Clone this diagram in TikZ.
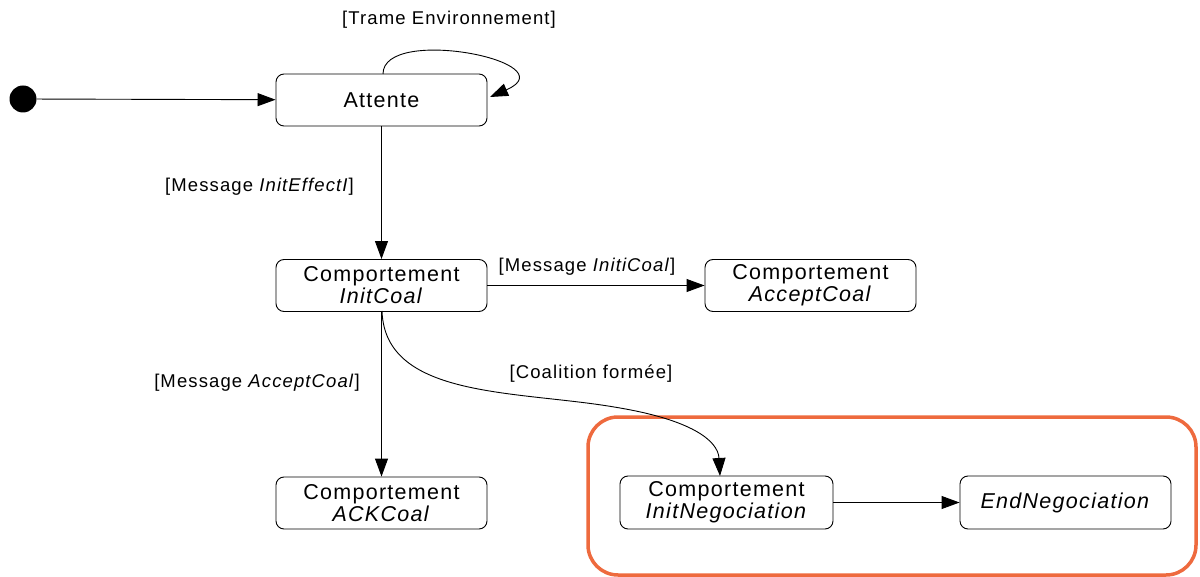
\documentclass[tikz,border=0pt]{standalone}
\usepackage{fontspec}
\setmainfont{Liberation Sans}[LetterSpace=6]
\usetikzlibrary{arrows.meta}
\definecolor{frameorange}{RGB}{238,106,62}
\begin{document}
\begin{tikzpicture}[x=1pt,y=-1pt,
  statebox/.style={draw, rounded corners=8pt, line width=0.9pt, minimum width=211pt, minimum height=52pt, inner sep=0pt, align=center, font=\fontsize{21.5}{22}\selectfont},
  lbl/.style={font=\fontsize{18.5}{20}\selectfont, inner sep=0pt},
  tr/.style={line width=0.9pt, -{Triangle[length=18pt,width=13pt]}}]
\useasboundingbox (0,0) rectangle (1200,577);
\node[circle, fill=black, minimum size=27pt, inner sep=0pt] (init) at (23,99) {};
\node[statebox] (attente) at (381.5,100) {Attente};
\node[statebox] (initcoal) at (381.5,285.5) {Comportement\\\textit{InitCoal}};
\node[statebox] (acceptcoal) at (810.5,285.5) {Comportement\\\textit{AcceptCoal}};
\node[statebox] (ackcoal) at (381.5,503) {Comportement\\\textit{ACKCoal}};
\node[statebox, minimum width=213pt, minimum height=53pt] (initneg) at (726.5,502.5) {Comportement\\\textit{InitNegociation}};
\node[statebox, minimum height=53pt] (endneg) at (1065.5,502.5) {\textit{EndNegociation}};
\draw[frameorange, line width=3.5pt, rounded corners=30pt] (588,417) rectangle (1196,575);
\coordinate (loopstart) at (383,74);
\coordinate (loopend) at (490,97);
\coordinate (negin) at (720,476);
\coordinate (ctop) at (382,311);
\draw[tr] (init) -- (attente);
\draw[tr] (loopstart) .. controls (383,25) and (570,62) .. (loopend);
\draw[tr] (attente) -- (initcoal);
\draw[tr] (initcoal) -- (acceptcoal);
\draw[tr] (initcoal) -- (ackcoal);
\draw[tr] (initneg) -- (endneg);
\draw[tr] (ctop) .. controls (385,400) and (520,390) .. (620,408) .. controls (690,420) and (718,440) .. (negin);
\node[lbl] (t1) at (449,20) {[Trame Environnement]};
\node[lbl] (t2) at (259.5,187) {[Message \textit{InitEffectI}]};
\node[lbl] (t3) at (587,267) {[Message \textit{InitiCoal}]};
\node[lbl] (t4) at (257,383) {[Message \textit{AcceptCoal}]};
\node[lbl] (t5) at (591,374) {[Coalition formée]};
\end{tikzpicture}
\end{document}
